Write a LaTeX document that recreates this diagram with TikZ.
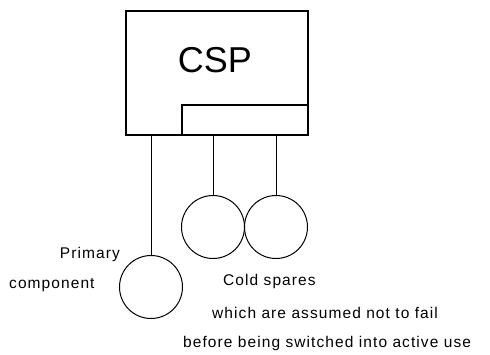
\documentclass[tikz,border=0pt]{standalone}
\usepackage{fontspec}
\setmainfont{Liberation Sans}
\newfontfamily\notefont{Liberation Sans}[LetterSpace=7]
\usepackage{tikz}
\usetikzlibrary{calc}

\tikzset{
    unit/.style={draw, line width=1pt, circle, minimum size=63pt, inner sep=0pt},
    note/.style={font=\notefont\fontsize{15.5}{18}\selectfont, inner sep=0pt}
}

\begin{document}
\begin{tikzpicture}[x=1pt, y=-1pt]
        \useasboundingbox[fill=white] (0,0) rectangle (490,354);

        % Controller box with its switch
        \node[draw, line width=1.4pt, minimum width=182pt, minimum height=124pt, inner sep=0pt] (csp) at (217,73) {};
        \node[draw, line width=1.4pt, minimum width=126pt, minimum height=30pt, inner sep=0pt] (switch) at (245,120) {};
        \node[font=\fontsize{36}{40}\selectfont, inner sep=0pt] (csplabel) at (215,60) {CSP};

        % Primary component
        \node[unit] (primary) at (151,287) {};
        \draw[line width=1pt] (csp.south -| primary.north) -- (primary.north);

        % Cold spares
        \node[unit] (spareA) at (213,227) {};
        \node[unit] (spareB) at (276,227) {};
        \draw[line width=1pt] (switch.south -| spareA.north) -- (spareA.north);
        \draw[line width=1pt] (switch.south -| spareB.north) -- (spareB.north);

        % Labels
        \node[note, anchor=base east] (primtop) at (120,258) {Primary};
        \node[note, anchor=base west] (primbot) at (9,288) {component};
        \node[note, anchor=base west] (coldA) at (223,285) {Cold spares};
        \node[note, anchor=base west] (coldB) at (212,318) {which are assumed not to fail};
        \node[note, anchor=base west] (coldC) at (183,347) {before being switched into active use};
    \end{tikzpicture}
\end{document}
